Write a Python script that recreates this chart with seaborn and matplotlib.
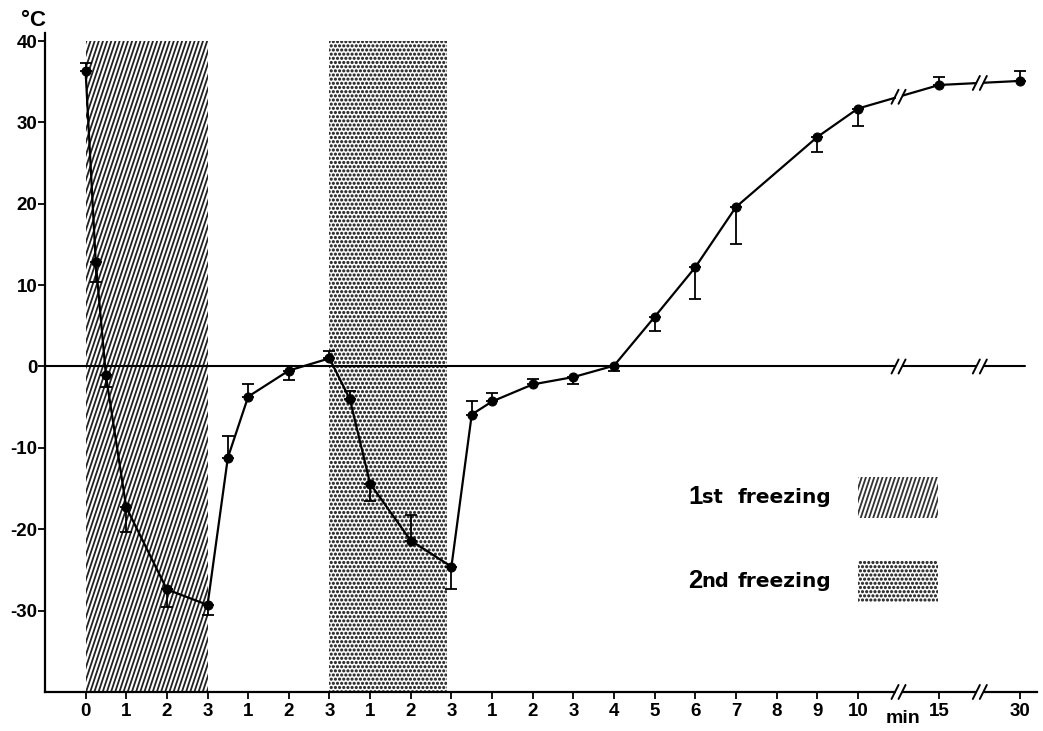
import numpy as np
import pandas as pd
import matplotlib
matplotlib.use("Agg")
import matplotlib.pyplot as plt
import matplotlib.hatch as mhatch
from matplotlib.path import Path
from matplotlib.patches import Rectangle
import seaborn as sns

# ---------------- data ----------------
# position on a continuous time axis (1 unit = 1 min of the segment)
pos = [0, 0.25, 0.5, 1, 2, 3,            # 1st freezing
       3.5, 4, 5, 6,                     # thaw
       6.5, 7, 8, 9,                     # 2nd freezing
       9.5, 10, 11, 12, 13, 14, 15, 16, 18, 19, 21, 23]   # recovery
temp = [36.3, 12.8, -1.1, -17.3, -27.4, -29.3,
        -11.2, -3.7, -0.5, 1.0,
        -4.0, -14.4, -21.4, -24.6,
        -5.9, -4.3, -2.2, -1.3, 0.1, 6.1, 12.2, 19.6, 28.2, 31.7, 34.6, 35.1]
err_up = [1.0, 0, 0, 0, 0, 0,
          2.7, 1.6, 0, 0.9,
          1.0, 0, 3.1, 0,
          1.6, 1.0, 0.7, 0, 0, 0, 0, 0, 0, 0, 1.0, 1.2]
err_down = [0, 2.4, 1.4, 3.1, 2.2, 1.2,
            0, 0, 1.1, 0,
            0, 2.1, 0, 2.8,
            0, 0, 0, 0.8, 0.7, 1.7, 3.9, 4.6, 1.8, 2.1, 0, 0]

xtick_pos = [0, 1, 2, 3, 4, 5, 6, 7, 8, 9, 10, 11, 12, 13, 14, 15, 16, 17, 18, 19, 21, 23]
xtick_labels = ["0", "1", "2", "3", "1", "2", "3", "1", "2", "3",
                "1", "2", "3", "4", "5", "6", "7", "8", "9", "10", "15", "30"]
ytick_vals = [-30, -20, -10, 0, 10, 20, 30, 40]
ytick_labels = ["-30", "-20", "-10", "0", "10", "20", "30", "40"]
freeze1 = (0, 3)
freeze2 = (6, 8.9)
break_pos = [20, 22]
legend_labels = [("1", "st", "freezing"), ("2", "nd", "freezing")]

# ---------------- custom hatch patterns ----------------
class SteepLines(mhatch.HatchPatternBase):
    """steep diagonal lines (slope ~3) for '/'"""
    def __init__(self, hatch, density):
        self.n = int(hatch.count('/') * density)
        self.shift = self.n // 3
        self.k = np.arange(-self.shift - 1, self.n + 2) if self.n else np.array([])
        self.num_vertices = 2 * len(self.k)

    def set_vertices_and_codes(self, vertices, codes):
        x0 = self.k / self.n
        dx = self.shift / self.n
        vertices[0::2, 0] = x0 - 0.1 * dx
        vertices[0::2, 1] = -0.1
        vertices[1::2, 0] = x0 + 1.1 * dx
        vertices[1::2, 1] = 1.1
        codes[0::2] = Path.MOVETO
        codes[1::2] = Path.LINETO


class BigDots(mhatch.SmallFilledCircles):
    size = 0.16


mhatch._hatch_types = [SteepLines if t is mhatch.NorthEastHatch else
                       (BigDots if t is mhatch.SmallFilledCircles else t)
                       for t in mhatch._hatch_types]

# ---------------- figure ----------------
sns.set_theme(style="ticks")
plt.rcParams["font.family"] = ["Liberation Sans", "DejaVu Sans"]
plt.rcParams["text.color"] = "black"
plt.rcParams["hatch.linewidth"] = 1.3

fig = plt.figure(figsize=(10.43, 7.31), dpi=100)
ax = fig.add_axes([0.0431, 0.0534, 0.9509, 0.9016])
ax.set_xlim(-1.0, 23.4)
ax.set_ylim(-40, 41)

# shaded freezing periods
ax.fill_between(freeze1, -40, 40, facecolor="white", edgecolor="#222222",
                hatch="////", linewidth=0, zorder=1)
ax.fill_between(freeze2, -40, 40, facecolor="white", edgecolor="#333333",
                hatch="....", linewidth=0, zorder=1)

# zero line
ax.axhline(0, xmax=0.988, color="black", lw=1.5, zorder=2)

df = pd.DataFrame({"pos": pos, "temp": temp})
sns.lineplot(data=df, x="pos", y="temp", sort=False, color="black",
             marker="o", markersize=6.5, markeredgecolor="black",
             linewidth=1.6, ax=ax, zorder=4)

p = np.array(pos)
t = np.array(temp)
eu = np.array(err_up)
ed = np.array(err_down)
m = eu > 0
ax.errorbar(p[m], t[m], yerr=[np.zeros(m.sum()), eu[m]], fmt="none",
            ecolor="black", elinewidth=1.3, capsize=4, capthick=1.3, zorder=3)
m = ed > 0
ax.errorbar(p[m], t[m], yerr=[ed[m], np.zeros(m.sum())], fmt="none",
            ecolor="black", elinewidth=1.3, capsize=4, capthick=1.3, zorder=3)

# axes styling
for s in ("top", "right"):
    ax.spines[s].set_visible(False)
for s in ("left", "bottom"):
    ax.spines[s].set_linewidth(1.6)
    ax.spines[s].set_color("black")
ax.set_xticks(xtick_pos)
ax.set_xticklabels(xtick_labels, fontsize=13.5, fontweight="bold")
ax.set_yticks(ytick_vals)
ax.set_yticklabels(ytick_labels, fontsize=13.5, fontweight="bold")
ax.tick_params(axis="both", direction="out", length=5, width=1.3,
               colors="black")
ax.tick_params(axis="y", pad=0.5)
ax.tick_params(axis="x", pad=3)
ax.set_xlabel("")
ax.set_ylabel("")

# break marks on data line, zero line and x axis
inv = ax.transData.inverted()


def draw_break(x, y):
    X, Y = ax.transData.transform((x, y))
    gap = [inv.transform((X - 3, Y)), inv.transform((X + 3, Y))]
    ax.plot([gap[0][0], gap[1][0]], [gap[0][1], gap[1][1]], color="white",
            lw=4, zorder=5, clip_on=False, solid_capstyle="butt")
    for off in (-3.5, 3.5):
        a = inv.transform((X + off - 3.5, Y - 7))
        b = inv.transform((X + off + 3.5, Y + 7))
        ax.plot([a[0], b[0]], [a[1], b[1]], color="black", lw=1.4,
                zorder=6, clip_on=False)


for bx in break_pos:
    draw_break(bx, float(np.interp(bx, p, t)))
    draw_break(bx, 0)
    draw_break(bx, -40)

# unit labels
fig.text(33 / 1043, 1 - 20 / 731, "°C", fontsize=16, ha="center", va="center",
         fontweight="bold")
ax.text(20.1, -42.2, "min", fontsize=14, ha="center", va="top",
        fontweight="bold")

# legend (text + swatches)
leg_y = [-16.1, -26.4]
leg_hatch = ["////", "...."]
for (big, small, word), yy, h in zip(legend_labels, leg_y, leg_hatch):
    ax.text(14.82, yy, big, fontsize=18.5, fontweight="bold", va="center", ha="left")
    ax.text(15.16, yy, small, fontsize=14, fontweight="bold", va="center", ha="left",
            family=["DejaVu Sans"])
    ax.text(16.05, yy, word, fontsize=14.5, fontweight="bold", va="center", ha="left",
            family=["DejaVu Sans"])
    ax.add_patch(Rectangle((19.0, yy - 2.5), 1.97, 5.0, facecolor="white",
                           edgecolor="#333333", hatch=h, linewidth=0, zorder=1))

fig.savefig("out.png", dpi=100, facecolor="white")
